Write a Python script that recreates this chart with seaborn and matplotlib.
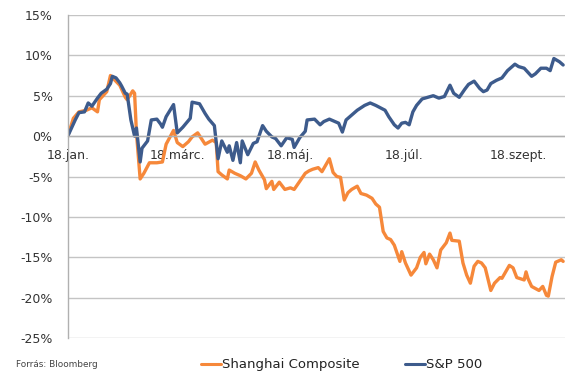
import pandas as pd
import matplotlib
matplotlib.use('Agg')
import matplotlib.pyplot as plt
from matplotlib.lines import Line2D
import seaborn as sns

# S&P 500, cumulative change since 18 Jan 2018 (%)
sp_dates = ['2018-01-18', '2018-01-22', '2018-01-24', '2018-01-27', '2018-01-29', '2018-01-31',
            '2018-02-03', '2018-02-05', '2018-02-08', '2018-02-10', '2018-02-11', '2018-02-13',
            '2018-02-15', '2018-02-16', '2018-02-18', '2018-02-19', '2018-02-21', '2018-02-23',
            '2018-02-24', '2018-02-26', '2018-02-27', '2018-03-02', '2018-03-04', '2018-03-07',
            '2018-03-09', '2018-03-10', '2018-03-12', '2018-03-16', '2018-03-18', '2018-03-21',
            '2018-03-25', '2018-03-26', '2018-03-30', '2018-04-02', '2018-04-04', '2018-04-07',
            '2018-04-09', '2018-04-11', '2018-04-14', '2018-04-15', '2018-04-17', '2018-04-19',
            '2018-04-21', '2018-04-22', '2018-04-25', '2018-04-28', '2018-04-30', '2018-05-03',
            '2018-05-05', '2018-05-08', '2018-05-10', '2018-05-13', '2018-05-16', '2018-05-19',
            '2018-05-20', '2018-05-23', '2018-05-26', '2018-05-27', '2018-05-31', '2018-06-03',
            '2018-06-05', '2018-06-08', '2018-06-11', '2018-06-13', '2018-06-15', '2018-06-17',
            '2018-06-20', '2018-06-23', '2018-06-27', '2018-06-30', '2018-07-03', '2018-07-08',
            '2018-07-10', '2018-07-13', '2018-07-15', '2018-07-17', '2018-07-19', '2018-07-21',
            '2018-07-23', '2018-07-25', '2018-07-28', '2018-07-31', '2018-08-03', '2018-08-06',
            '2018-08-09', '2018-08-12', '2018-08-14', '2018-08-17', '2018-08-20', '2018-08-22',
            '2018-08-25', '2018-08-28', '2018-08-30', '2018-09-01', '2018-09-03', '2018-09-06',
            '2018-09-09', '2018-09-12', '2018-09-16', '2018-09-18', '2018-09-21', '2018-09-25',
            '2018-09-27', '2018-09-30', '2018-10-03', '2018-10-05', '2018-10-07', '2018-10-10',
            '2018-10-12']
sp_values = [0.0, 2.0, 2.9, 3.0, 4.1, 3.7,
             4.7, 5.3, 5.8, 6.5, 7.4, 7.2,
             6.6, 6.2, 5.3, 5.2, 2.0, 0.0,
             1.0, -3.2, -1.5, -0.6, 2.0, 2.1,
             1.5, 1.1, 2.4, 3.9, 0.4, 1.1,
             2.2, 4.2, 4.0, 2.8, 2.1, 1.3,
             -2.8, -0.6, -2.0, -1.2, -3.0, -0.8,
             -3.3, -0.6, -2.3, -0.9, -0.7, 1.3,
             0.6, -0.1, -0.3, -1.2, -0.2, -0.4,
             -1.4, -0.2, 0.6, 2.0, 2.1, 1.4,
             1.8, 2.1, 1.8, 1.6, 0.5, 2.0,
             2.6, 3.2, 3.8, 4.1, 3.8, 3.2,
             2.4, 1.4, 1.0, 1.6, 1.7, 1.4,
             3.0, 3.8, 4.6, 4.8, 5.0, 4.7,
             4.9, 6.3, 5.3, 4.8, 5.8, 6.4,
             6.8, 5.9, 5.5, 5.7, 6.5, 6.9,
             7.2, 8.1, 8.9, 8.6, 8.4, 7.4,
             7.7, 8.4, 8.4, 8.1, 9.6, 9.2,
             8.8]

# Shanghai Composite, cumulative change since 18 Jan 2018 (%)
sh_dates = ['2018-01-18', '2018-01-21', '2018-01-24', '2018-01-28', '2018-01-31', '2018-02-03',
            '2018-02-04', '2018-02-08', '2018-02-10', '2018-02-12', '2018-02-15', '2018-02-18',
            '2018-02-19', '2018-02-22', '2018-02-23', '2018-02-24', '2018-02-26', '2018-02-28',
            '2018-03-03', '2018-03-07', '2018-03-10', '2018-03-12', '2018-03-16', '2018-03-18',
            '2018-03-21', '2018-03-24', '2018-03-26', '2018-03-29', '2018-04-02', '2018-04-06',
            '2018-04-08', '2018-04-09', '2018-04-11', '2018-04-14', '2018-04-15', '2018-04-18',
            '2018-04-21', '2018-04-24', '2018-04-27', '2018-04-29', '2018-05-01', '2018-05-04',
            '2018-05-05', '2018-05-08', '2018-05-09', '2018-05-12', '2018-05-15', '2018-05-18',
            '2018-05-20', '2018-05-23', '2018-05-26', '2018-05-28', '2018-05-30', '2018-06-02',
            '2018-06-04', '2018-06-06', '2018-06-08', '2018-06-10', '2018-06-12', '2018-06-14',
            '2018-06-16', '2018-06-18', '2018-06-20', '2018-06-23', '2018-06-25', '2018-06-28',
            '2018-07-01', '2018-07-03', '2018-07-05', '2018-07-07', '2018-07-09', '2018-07-11',
            '2018-07-13', '2018-07-16', '2018-07-17', '2018-07-19', '2018-07-22', '2018-07-25',
            '2018-07-27', '2018-07-29', '2018-07-30', '2018-08-01', '2018-08-03', '2018-08-05',
            '2018-08-07', '2018-08-10', '2018-08-12', '2018-08-13', '2018-08-17', '2018-08-19',
            '2018-08-21', '2018-08-23', '2018-08-25', '2018-08-27', '2018-08-29', '2018-08-31',
            '2018-09-03', '2018-09-05', '2018-09-08', '2018-09-09', '2018-09-13', '2018-09-15',
            '2018-09-17', '2018-09-21', '2018-09-22', '2018-09-23', '2018-09-25', '2018-09-29',
            '2018-10-01', '2018-10-03', '2018-10-04', '2018-10-06', '2018-10-08', '2018-10-11',
            '2018-10-12']
sh_values = [0.0, 2.2, 3.0, 3.2, 3.5, 3.0,
             4.5, 5.5, 7.5, 7.0, 6.3, 4.8,
             4.5, 5.6, 5.3, 0.4, -5.3, -4.6,
             -3.3, -3.3, -3.2, -1.0, 0.7, -0.8,
             -1.3, -0.7, -0.1, 0.4, -1.0, -0.5,
             -0.8, -4.4, -4.8, -5.3, -4.2, -4.6,
             -4.9, -5.3, -4.6, -3.2, -4.2, -5.4,
             -6.5, -5.6, -6.6, -5.7, -6.6, -6.4,
             -6.6, -5.6, -4.6, -4.3, -4.1, -3.9,
             -4.4, -3.6, -2.8, -4.5, -5.0, -5.1,
             -7.9, -7.0, -6.6, -6.2, -7.1, -7.3,
             -7.7, -8.4, -8.8, -11.8, -12.6, -12.8,
             -13.5, -15.5, -14.3, -15.7, -17.2, -16.3,
             -15.0, -14.4, -15.8, -14.6, -15.3, -16.3,
             -14.1, -13.2, -12.0, -12.9, -13.0, -15.7,
             -17.2, -18.2, -16.1, -15.5, -15.7, -16.3,
             -19.1, -18.2, -17.5, -17.6, -16.0, -16.3,
             -17.5, -17.8, -16.8, -17.6, -18.6, -19.1,
             -18.6, -19.7, -19.8, -17.4, -15.6, -15.3,
             -15.5]

tick_dates = ['2018-01-18', '2018-03-18', '2018-05-18', '2018-07-18', '2018-09-18']
tick_labels = ['18.jan.', '18.márc.', '18.máj.', '18.júl.', '18.szept.']
y_ticks = [15, 10, 5, 0, -5, -10, -15, -20, -25]

series_names = ['Shanghai Composite', 'S&P 500']
colors = {'Shanghai Composite': '#F6883A', 'S&P 500': '#3D5B8C'}

df = pd.concat([
    pd.DataFrame({'date': pd.to_datetime(sh_dates), 'value': sh_values, 'series': 'Shanghai Composite'}),
    pd.DataFrame({'date': pd.to_datetime(sp_dates), 'value': sp_values, 'series': 'S&P 500'}),
], ignore_index=True)

sns.set_style('white')
plt.rcParams['font.family'] = ['DejaVu Sans']

fig = plt.figure(figsize=(5.65, 3.72), dpi=100)
ax = fig.add_axes([0.120, 0.091, 0.880, 0.869])

sns.lineplot(data=df, x='date', y='value', hue='series', hue_order=series_names,
             palette=colors, linewidth=2.4, legend=False, ax=ax)

ax.set_ylim(-25, 15)
ax.set_xlim(pd.Timestamp('2018-01-18'), pd.Timestamp('2018-10-13'))
ax.set_yticks(y_ticks)
ax.set_yticklabels([f'{v}%' for v in y_ticks])
ax.set_xticks(pd.to_datetime(tick_dates))
ax.set_xticklabels(tick_labels)
ax.set_xlabel('')
ax.set_ylabel('')

ax.yaxis.grid(True, color='#c4c4c4', linewidth=1.0)
ax.xaxis.grid(False)
ax.set_axisbelow(True)

for side in ['top', 'right']:
    ax.spines[side].set_visible(False)
ax.spines['left'].set_color('#b0b0b0')
ax.spines['left'].set_linewidth(1.0)
ax.spines['bottom'].set_position(('data', 0))
ax.spines['bottom'].set_color('#b0b0b0')
ax.spines['bottom'].set_linewidth(1.0)

ax.tick_params(axis='y', length=0, pad=11, labelsize=9, labelcolor='#333333')
ax.tick_params(axis='x', direction='inout', length=7, width=1, color='#a0a0a0',
               pad=6, labelsize=9, labelcolor='#333333')
for lab in ax.get_xticklabels():
    lab.set_zorder(5)

handles = [Line2D([], [], color=colors[n], linewidth=2.2) for n in series_names]
fig.legend(handles, series_names, loc='center', bbox_to_anchor=(0.605, 0.019), ncol=2,
           frameon=False, fontsize=9.5, handlelength=1.5, handletextpad=0.1,
           columnspacing=3.4, labelcolor='#222222')

fig.text(0.028, 0.019, 'Forrás: Bloomberg', fontsize=6.4, color='#444444', va='center')

fig.savefig('out.png', dpi=100)
